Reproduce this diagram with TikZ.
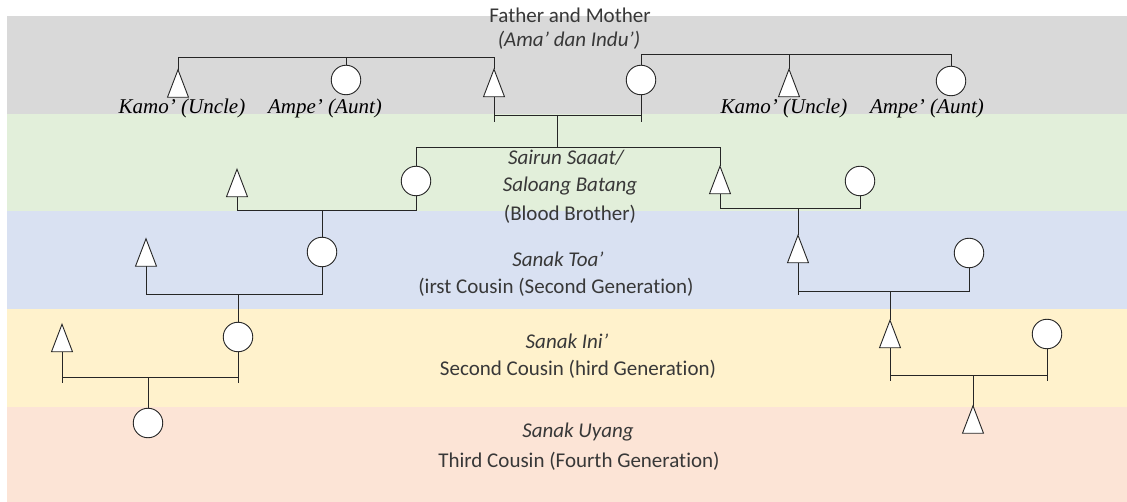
\documentclass[tikz,border=0pt]{standalone}
\usepackage{fontspec}
\setmainfont{Carlito}[Ligatures=NoCommon]
\newfontfamily\timesf{Liberation Serif}
\definecolor{gen0}{HTML}{D9D9D9}
\definecolor{gen1}{HTML}{E2EFDA}
\definecolor{gen2}{HTML}{D9E1F2}
\definecolor{gen3}{HTML}{FFF2CC}
\definecolor{gen4}{HTML}{FCE4D6}
\begin{document}
\begin{tikzpicture}[x=1pt,y=-1pt,
  link/.style={draw=black!85, line width=0.9pt},
  fem/.style={circle, draw=black!85, fill=white, line width=0.9pt, minimum size=29.5pt, inner sep=0pt},
  male/.style={rectangle, minimum width=21pt, minimum height=27.5pt, inner sep=0pt, outer sep=0pt},
  tshape/.style={draw=black!85, fill=white, line width=0.9pt, line join=miter},
  caption/.style={font=\fontsize{21}{25}\selectfont, text=black!78, inner sep=0pt},
  capit/.style={font=\fontsize{21}{25}\selectfont\itshape, text=black!78, inner sep=0pt},
  kin/.style={font=\fontsize{21}{25}\selectfont\timesf\itshape, inner sep=0pt},
]
\useasboundingbox (0,0) rectangle (1127,502);

% generation bands
\fill[gen0] (7,16) rectangle (1127,114);
\fill[gen1] (7,114) rectangle (1127,211);
\fill[gen2] (7,211) rectangle (1127,309);
\fill[gen3] (7,309) rectangle (1127,407);
\fill[gen4] (7,407) rectangle (1127,502);

% band captions
\node[caption] (t0a) at (570,15) {Father and Mother};
\node[capit] (t0b) at (569,40) {(Ama’ dan Indu’)};
\node[capit] (t1a) at (566,158) {Sairun Saaat/};
\node[capit] (t1b) at (570,186) {Saloang Batang};
\node[caption] (t1c) at (570,214) {(Blood Brother)};
\node[capit] (t2a) at (558,259) {Sanak Toa’};
\node[caption] (t2b) at (556,287) {(irst Cousin (Second Generation)};
\node[capit] (t3a) at (567,341) {Sanak Ini’};
\node[caption] (t3b) at (578,369) {Second Cousin (hird Generation)};
\node[capit] (t4a) at (578,432) {Sanak Uyang};
\node[caption] (t4b) at (579,461) {Third Cousin (Fourth Generation)};

% kin labels
\node[kin] (l1) at (182,108) {Kamo’ (Uncle)};
\node[kin] (l2) at (325,108) {Ampe’ (Aunt)};
\node[kin] (l3) at (784,108) {Kamo’ (Uncle)};
\node[kin] (l4) at (927,108) {Ampe’ (Aunt)};

% persons: triangles are male, circles female
\node[male] (ku1) at (178,83.5) {};
\node[fem]  (ap1) at (346,80) {};
\node[male] (fa)  at (494,83) {};
\node[fem]  (mo)  at (641,80) {};
\node[male] (ku2) at (789,83) {};
\node[fem]  (ap2) at (951,81) {};

\node[male] (g1a) at (237,183) {};
\node[fem]  (g1b) at (416,181) {};
\node[male] (g1c) at (720,180) {};
\node[fem]  (g1d) at (860,181) {};

\node[male] (g2a) at (146,252.5) {};
\node[fem]  (g2b) at (322,252) {};
\node[male] (g2c) at (798,249) {};
\node[fem]  (g2d) at (969,253) {};

\node[male] (g3a) at (62,338) {};
\node[fem]  (g3b) at (238,337) {};
\node[male] (g3c) at (890,334) {};
\node[fem]  (g3d) at (1047,334) {};

\node[fem]  (g4a) at (148,423) {};
\node[male] (g4b) at (973,419.5) {};

% bar levels
\coordinate (b0l) at (0,57);
\coordinate (b0r) at (0,54);
\coordinate (b0m) at (0,115);
\coordinate (b0x) at (0,122);
\coordinate (b1)  at (0,147);
\coordinate (b1l) at (0,210);
\coordinate (b1r) at (0,208);
\coordinate (b2l) at (0,294);
\coordinate (b2r) at (0,291);
\coordinate (b2x) at (0,295);
\coordinate (b3l) at (0,377);
\coordinate (b3lx) at (0,383);
\coordinate (b3r) at (0,375);
\coordinate (b3rx) at (0,381);
\coordinate (m0) at (557,115);

% siblings of the father
\draw[link] (ku1.north) -- (ku1.north |- b0l) -- (fa.north |- b0l) -- (fa.north);
\draw[link] (ap1.north) -- (ap1.north |- b0l);
% siblings of the mother
\draw[link] (mo.north) -- (mo.north |- b0r) -- (ap2.north |- b0r) -- (ap2.north);
\draw[link] (ku2.north) -- (ku2.north |- b0r);
% father and mother
\draw[link] (fa.south) -- (fa.south |- b0x);
\draw[link] (mo.south) -- (mo.south |- b0x);
\draw[link] (fa.south |- b0m) -- (mo.south |- b0m);
\draw[link] (m0) -- (m0 |- b1);
\draw[link] (g1b.north) -- (g1b.north |- b1) -- (g1c.north |- b1) -- (g1c.north);

% first generation couples
\draw[link] (g1a.south) -- (g1a.south |- b1l) -- (g1b.south |- b1l) -- (g1b.south);
\draw[link] (g2b.north) -- (g2b.north |- b1l);
\draw[link] (g1c.south) -- (g1c.south |- b1r) -- (g1d.south |- b1r) -- (g1d.south);
\draw[link] (g2c.north) -- (g2c.north |- b1r);

% second generation couples
\draw[link] (g2a.south) -- (g2a.south |- b2l) -- (g2b.south |- b2l) -- (g2b.south);
\draw[link] (g3b.north) -- (g3b.north |- b2l);
\draw[link] (g2c.south) -- (g2c.south |- b2x);
\draw[link] (g2c.south |- b2r) -- (g2d.south |- b2r) -- (g2d.south);
\draw[link] (g3c.north) -- (g3c.north |- b2r);

% third generation couples
\draw[link] (g3a.south) -- (g3a.south |- b3lx);
\draw[link] (g3b.south) -- (g3b.south |- b3lx);
\draw[link] (g3a.south |- b3l) -- (g3b.south |- b3l);
\draw[link] (g4a.north) -- (g4a.north |- b3l);
\draw[link] (g3c.south) -- (g3c.south |- b3rx);
\draw[link] (g3d.south) -- (g3d.south |- b3rx);
\draw[link] (g3c.south |- b3r) -- (g3d.south |- b3r);
\draw[link] (g4b.north) -- (g4b.north |- b3r);

% male symbols
\foreach \n in {ku1,fa,ku2,g1a,g1c,g2a,g2c,g3a,g3c,g4b}
  \draw[tshape] (\n.north) -- (\n.south east) -- (\n.south west) -- cycle;
\end{tikzpicture}
\end{document}
